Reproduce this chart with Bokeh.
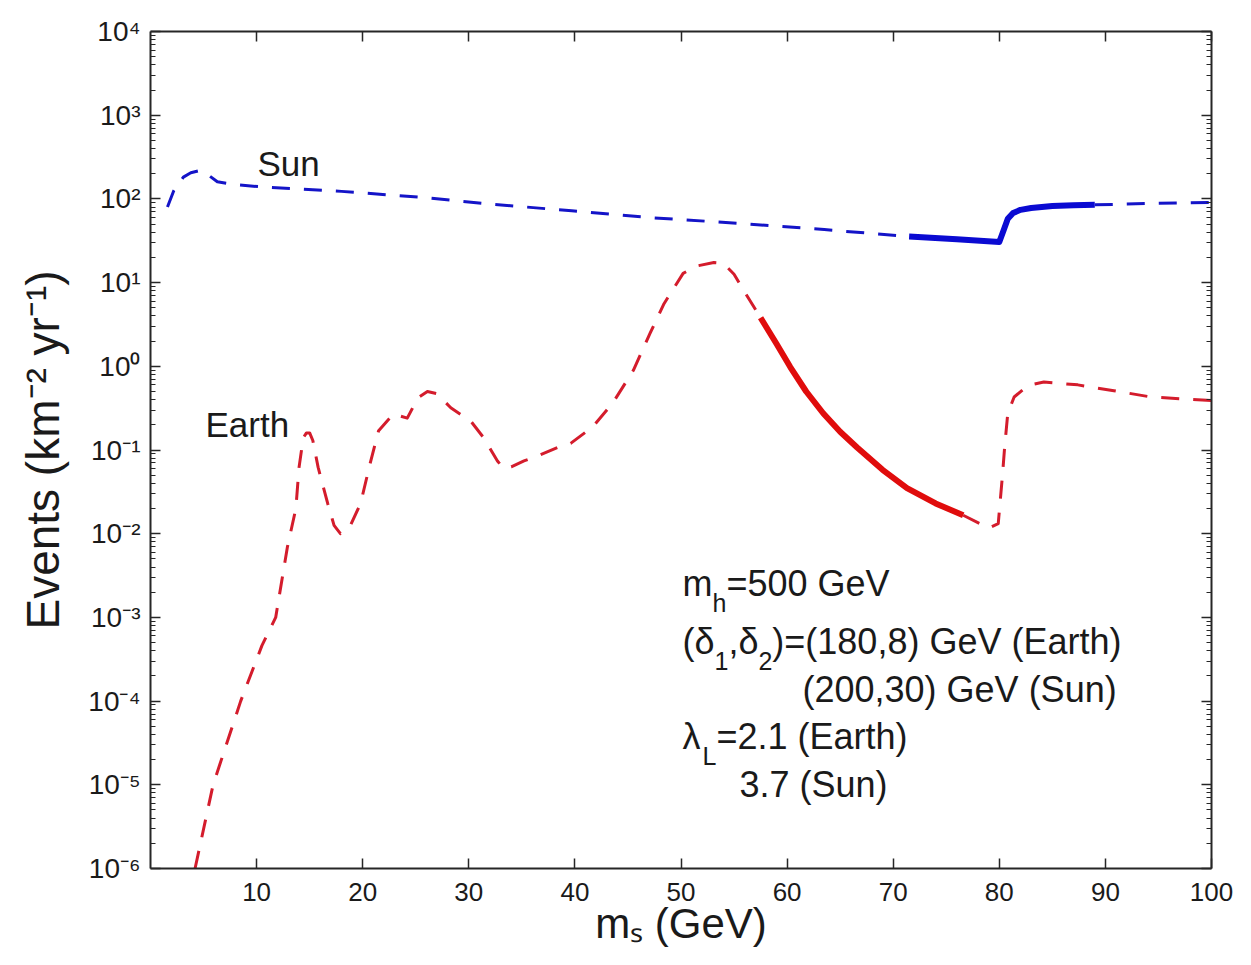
import math
from bokeh.plotting import figure
from bokeh.models import Range1d, LinearAxis, LogAxis, FixedTicker, Label, CustomJSTickFormatter
from bokeh.embed import file_html
from bokeh.resources import INLINE

# ---------------- data ----------------
sun_mass = [1.6, 2.2, 3.1, 3.8, 4.7, 5.4, 6.3, 8.0, 10.8, 18.0, 25.3, 32.4, 39.7,
            46.9, 55.5, 63.5, 71.5, 76.0, 80.0, 80.4, 80.8, 81.3, 82.0, 83.0, 85.0,
            87.0, 89.0, 94.0, 100.0]
sun_events = [80, 126, 182, 205, 219, 195, 160, 148, 138, 123, 105, 86, 72,
              60, 51, 43, 35.5, 33, 30.5, 42, 58, 68, 74, 78, 82,
              84, 85, 88, 91]
sun_solid = [71.5, 89.0]

earth_mass = [4.2, 5.9, 8.5, 10.5, 11.8, 12.9, 13.7, 14.0, 14.4, 14.7, 15.0, 15.3, 15.8,
              16.7, 17.3, 17.9, 18.9, 19.8, 20.7, 21.5, 22.9, 24.2, 25.2, 26.1, 27.0,
              28.3, 30.2, 31.4, 32.7, 33.3, 34.0, 35.2, 36.1, 38.6, 39.6, 41.7, 43.6,
              45.5, 47.1, 48.4, 50.2, 51.5, 53.1, 54.0, 55.0, 55.9, 57.5, 59.0, 60.3,
              61.8, 63.4, 65.0, 66.6, 69.0, 71.3, 74.0, 76.6, 79.0, 79.9, 80.3, 80.5,
              80.8, 81.4, 82.7, 84.2, 87.4, 90.8, 94.3, 100.0]
earth_events = [1.0e-6, 1.0e-5, 1.0e-4, 4.6e-4, 1.0e-3, 6.9e-3, 0.020, 0.062, 0.14, 0.16, 0.16, 0.13, 0.062,
                0.023, 0.0126, 0.010, 0.013, 0.023, 0.069, 0.17, 0.27, 0.24, 0.42, 0.50, 0.47,
                0.32, 0.22, 0.14, 0.074, 0.060, 0.063, 0.074, 0.081, 0.11, 0.12, 0.19, 0.37,
                0.89, 2.5, 5.6, 12.9, 15.8, 17.4, 17.0, 12.6, 8.1, 3.8, 1.86, 0.98,
                0.50, 0.275, 0.165, 0.107, 0.058, 0.035, 0.023, 0.0166, 0.0117, 0.0132, 0.050, 0.107,
                0.275, 0.43, 0.59, 0.65, 0.60, 0.51, 0.43, 0.39]
earth_solid = [57.5, 76.6]

x_tick_values = [10, 20, 30, 40, 50, 60, 70, 80, 90, 100]
y_tick_exponents = [-6, -5, -4, -3, -2, -1, 0, 1, 2, 3, 4]

x_axis_title = "m\u209b (GeV)"
y_axis_title = "Events (km\u207b\u00b2 yr\u207b\u00b9)"
sun_name = "Sun"
earth_name = "Earth"

# ---------------- geometry / style ----------------
W, H = 1251, 965
FL, FR, FT, FB = 150, 1211, 31, 868
XMIN, XMAX = 0.0, 100.0
LMIN, LMAX = -6.0, 4.0
FONT = "Liberation Sans"
TXT = "#1a1a1a"
BLUE_D, BLUE_S = "#1414c8", "#0a0ad2"
RED_D, RED_S = "#d41c2c", "#e00c0c"
DASH = "18 14"

ADV = {" ": .278, "(": .333, ")": .333, ",": .278, "-": .333, ".": .278, "=": .584,
       "E": .667, "G": .778, "L": .556, "S": .667, "V": .667, "a": .556, "e": .556,
       "h": .556, "k": .5, "m": .833, "n": .556, "r": .333, "s": .5, "t": .278,
       "u": .556, "v": .5, "y": .5, "\u03b4": .556, "\u03bb": .5, "\u2212": .584}


def tw(s, size):
    return sum(ADV.get(c, .556) for c in s) * size


def to_data(px, py):
    x = XMIN + (px - FL) / (FR - FL) * (XMAX - XMIN)
    y = 10 ** (LMAX - (py - FT) / (FB - FT) * (LMAX - LMIN))
    return x, y


p = figure(width=W, height=H, x_range=Range1d(XMIN, XMAX),
           y_range=Range1d(10 ** LMIN, 10 ** LMAX), y_axis_type="log",
           output_backend="svg", toolbar_location=None,
           min_border_left=FL, min_border_right=W - FR,
           min_border_top=FT, min_border_bottom=H - FB)
p.background_fill_color = "white"
p.border_fill_color = "white"
p.outline_line_color = None
p.xgrid.visible = False
p.ygrid.visible = False


def y_ticker():
    return FixedTicker(ticks=[10.0 ** k for k in y_tick_exponents],
                       minor_ticks=[m * 10.0 ** k for k in y_tick_exponents[:-1] for m in range(2, 10)])


def style_axis(ax, ticker, show_labels, size="26px"):
    ax.ticker = ticker
    ax.major_tick_in = 10
    ax.major_tick_out = 0
    ax.minor_tick_in = 5
    ax.minor_tick_out = 0
    ax.axis_line_width = 2
    ax.axis_line_color = "#262626"
    ax.major_tick_line_color = "#262626"
    ax.minor_tick_line_color = "#262626"
    ax.major_tick_line_width = 1.5
    ax.minor_tick_line_width = 1
    ax.major_label_text_font = FONT
    ax.major_label_text_font_size = size
    ax.axis_label_text_font = FONT
    ax.axis_label_text_font_style = "normal"
    ax.axis_label_text_color = TXT
    ax.major_label_text_color = TXT if show_labels else None


bottom = p.xaxis[0]
style_axis(bottom, FixedTicker(ticks=x_tick_values), True)
bottom.major_label_standoff = 14
bottom.axis_label = x_axis_title
bottom.axis_label_text_font_size = "42px"
bottom.axis_label_standoff = -4

left = p.yaxis[0]
style_axis(left, y_ticker(), True, size="28px")
left.major_label_standoff = 10
left.formatter = CustomJSTickFormatter(code="""
const sup = {"0":"\u2070","1":"\u00b9","2":"\u00b2","3":"\u00b3","4":"\u2074","5":"\u2075",
             "6":"\u2076","7":"\u2077","8":"\u2078","9":"\u2079","-":"\u207b"};
const e = Math.round(Math.log10(tick));
return "10" + String(e).split("").map(c => sup[c]).join("");
""")
left.axis_label = y_axis_title
left.axis_label_text_font_size = "46px"
left.axis_label_standoff = 16

top = LinearAxis()
style_axis(top, FixedTicker(ticks=x_tick_values), False)
p.add_layout(top, "above")
right = LogAxis()
style_axis(right, y_ticker(), False)
p.add_layout(right, "right")


# ---------------- curves ----------------
def split(xs, ys, lo, hi):
    a = [(x, y) for x, y in zip(xs, ys) if x <= lo]
    b = [(x, y) for x, y in zip(xs, ys) if lo <= x <= hi]
    c = [(x, y) for x, y in zip(xs, ys) if x >= hi]
    return a, b, c


def draw(xs, ys, rng, cd, cs):
    a, b, c = split(xs, ys, rng[0], rng[1])
    for seg in (a, c):
        if len(seg) > 1:
            p.line([q[0] for q in seg], [q[1] for q in seg], line_color=cd,
                   line_width=3, line_dash=DASH, line_join="round")
    p.line([q[0] for q in b], [q[1] for q in b], line_color=cs, line_width=6,
           line_join="round", line_cap="butt")


draw(sun_mass, sun_events, sun_solid, BLUE_D, BLUE_S)
draw(earth_mass, earth_events, earth_solid, RED_D, RED_S)


# ---------------- text inside the frame ----------------
SHIFT = 0.4  # baseline correction (fraction of font size)


def lab(text, px, py, size):
    x, y = to_data(px, py - SHIFT * size)
    p.add_layout(Label(x=x, y=y, x_units="data", y_units="data", text=text,
                       text_font=FONT, text_font_size=f"{size}px", text_color=TXT,
                       text_align="left", text_baseline="alphabetic"))


lab(sun_name, 257, 177, 35)
lab(earth_name, 205, 438, 35)

F, FS, DROP = 36, 25, 15
x0 = 682
cx = x0
lab("m", cx, 597, F); cx += tw("m", F)
lab("h", cx, 597 + DROP, FS); cx += tw("h", FS)
lab("=500 GeV", cx, 597, F)
cx = x0
lab("(\u03b4", cx, 655, F); cx += tw("(\u03b4", F)
lab("1", cx, 655 + DROP, FS); cx += tw("1", FS)
lab(",\u03b4", cx, 655, F); cx += tw(",\u03b4", F)
lab("2", cx, 655 + DROP, FS); cx += tw("2", FS)
lab(")=(180,8) GeV (Earth)", cx, 655, F)
lab("(200,30) GeV (Sun)", 802, 703, F)
cx = x0
lab("\u03bb", cx, 750, F); cx += tw("\u03bb", F) + 2
lab("L", cx, 750 + DROP, FS); cx += tw("L", FS)
lab("=2.1 (Earth)", cx, 750, F)
lab("3.7 (Sun)", 739, 798, F)

open("out.html", "w").write(file_html(p, INLINE))
